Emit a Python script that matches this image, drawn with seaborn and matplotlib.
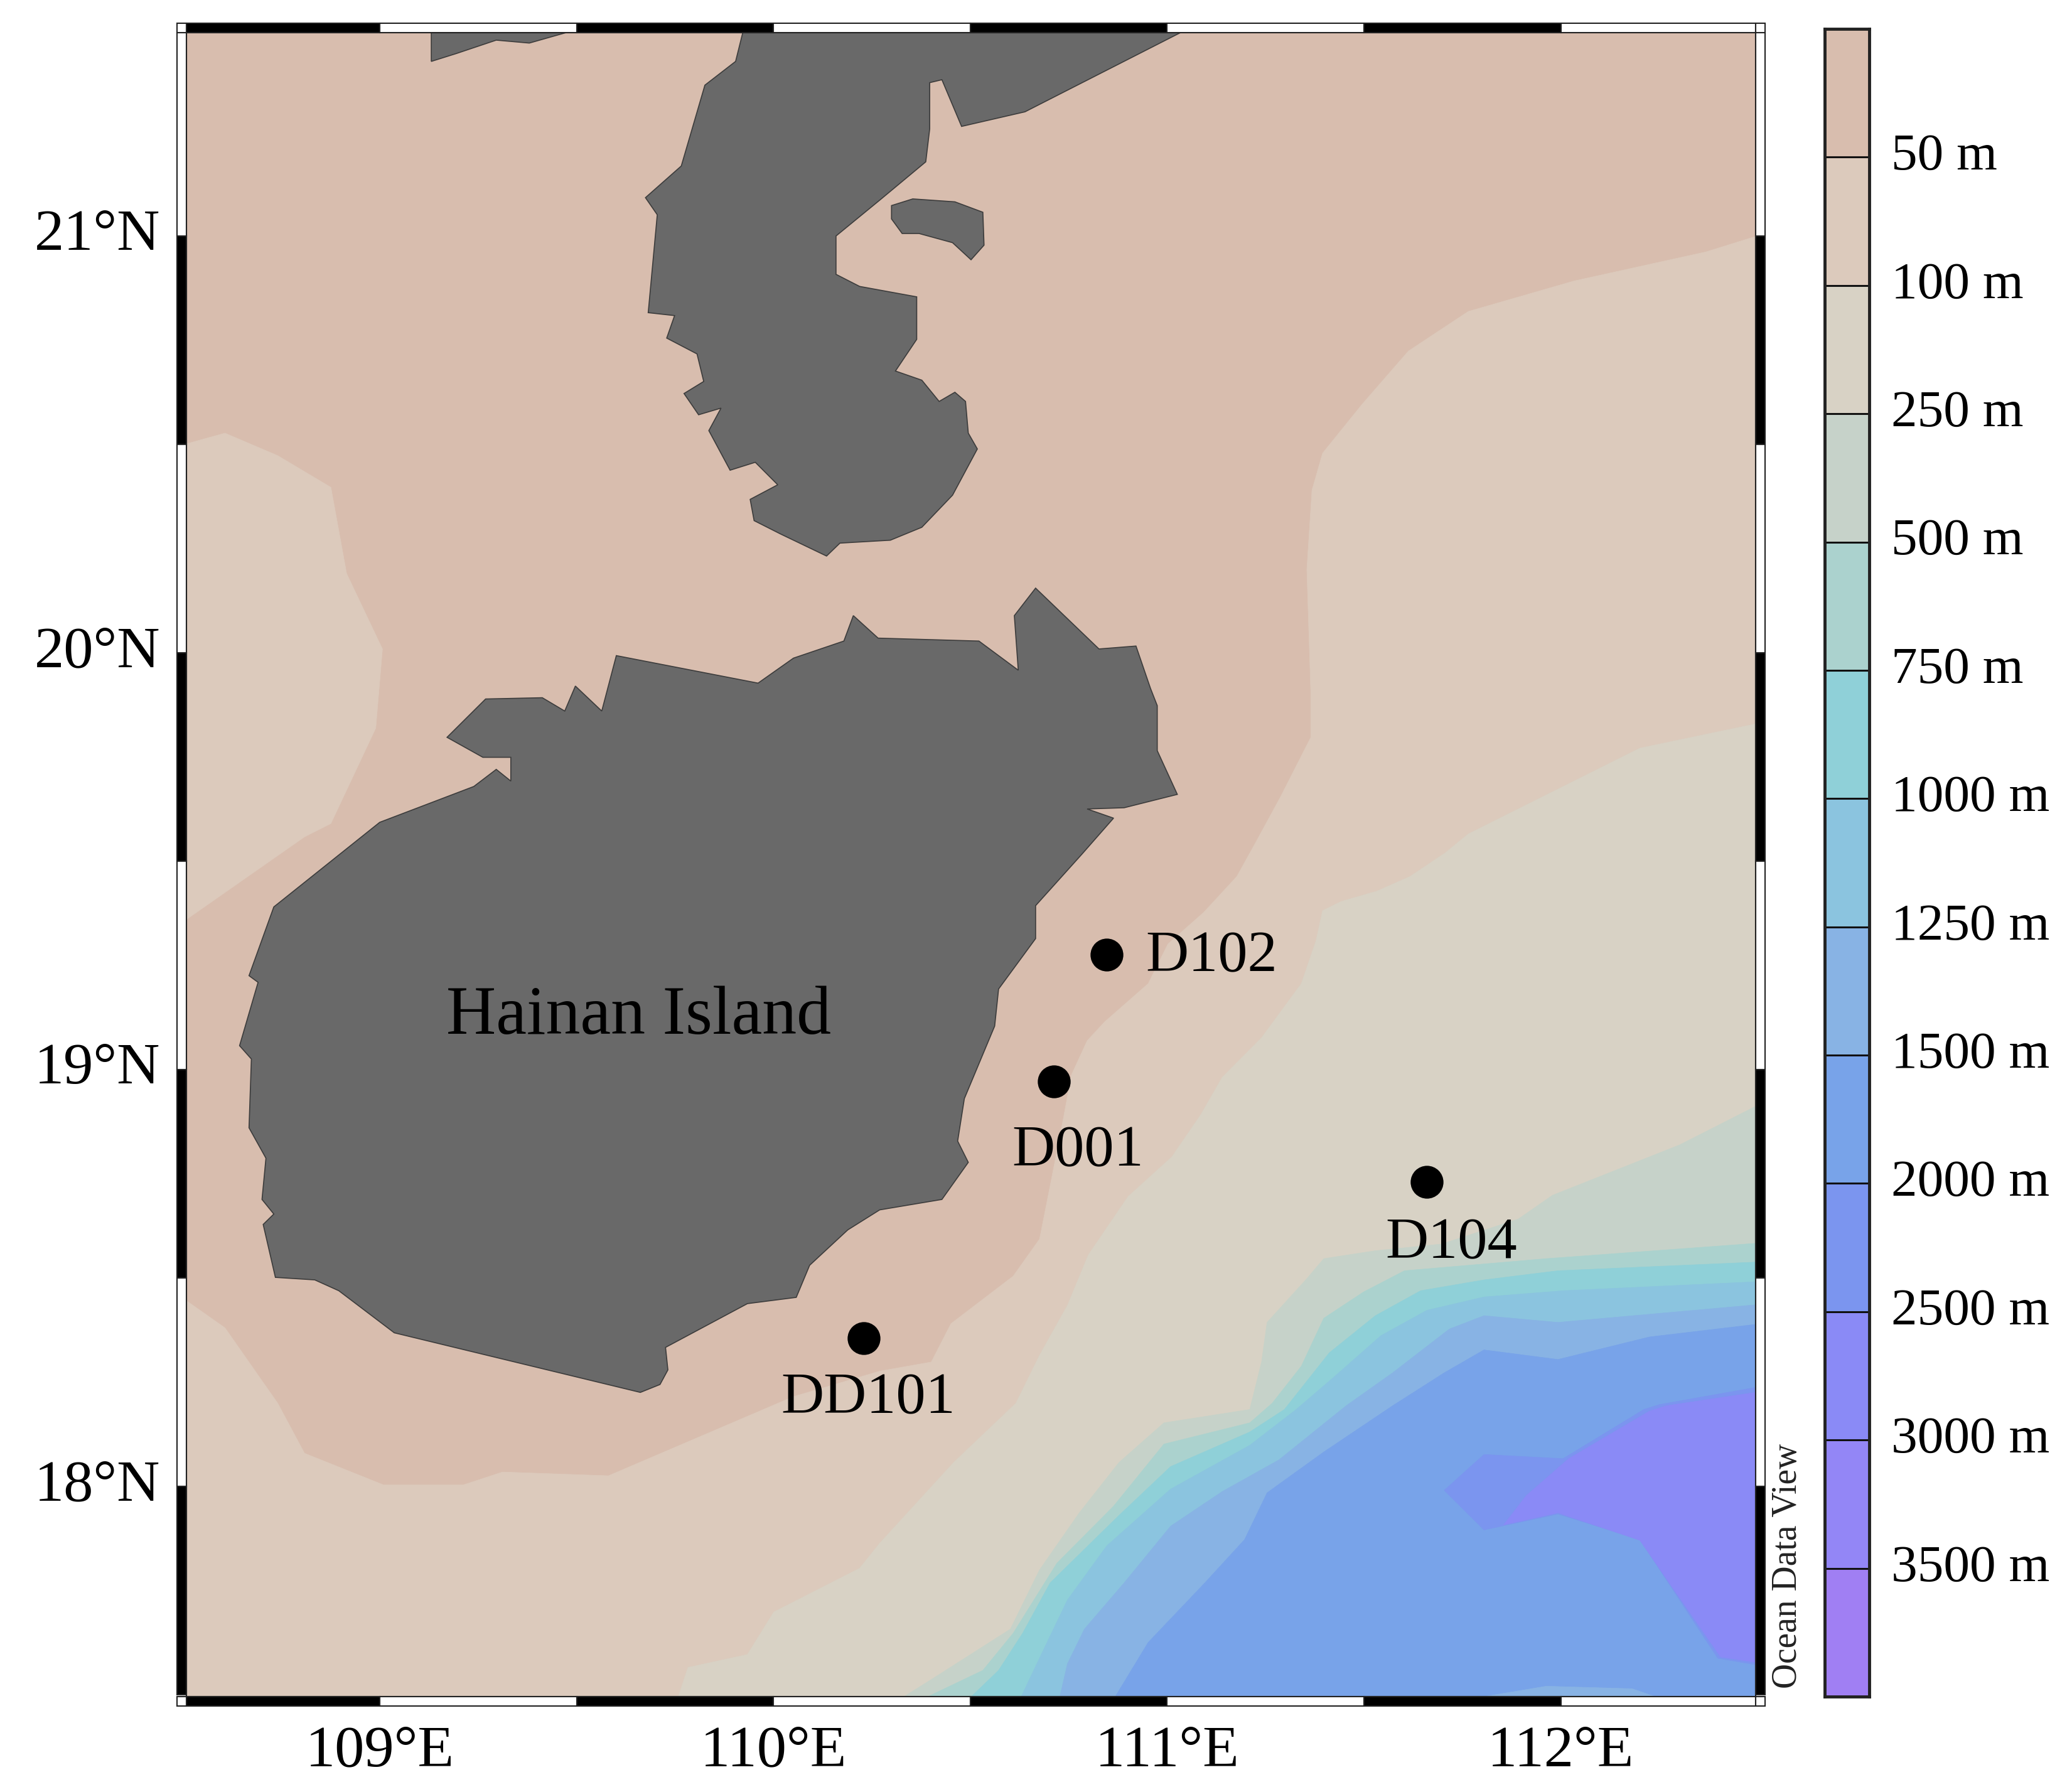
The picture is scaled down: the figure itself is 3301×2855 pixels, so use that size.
import numpy as np
import pandas as pd
import matplotlib
matplotlib.use("Agg")
import matplotlib.pyplot as plt
from matplotlib.colors import ListedColormap
from matplotlib.patches import Rectangle
import seaborn as sns

# ---------- depth legend ----------
depth_labels = ["50 m", "100 m", "250 m", "500 m", "750 m", "1000 m", "1250 m",
                "1500 m", "2000 m", "2500 m", "3000 m", "3500 m"]
band_colors = ["#D8BDAE", "#DCCABC", "#D8D2C5", "#C6D2C9", "#ABD2CE", "#8FD0D8", "#8BC4DF",
               "#88B3E4", "#78A3E9", "#7B95EF", "#8A8AF6", "#9386F6", "#A07FF3"]
land_color = "#696969"

# ---------- stations ----------
station_names = ["D102", "D001", "D104", "DD101"]
station_lon = [110.847, 110.713, 111.660, 110.229]
station_lat = [19.276, 18.971, 18.730, 18.355]
label_lon = [110.945, 110.774, 111.722, 110.241]
label_lat = [19.270, 18.803, 18.581, 18.209]

# ---------- land outlines ----------
hainan_lon = [109.171,109.269,109.413,109.470,109.497,109.564,109.601,109.961,110.051,110.179,110.203,110.266,110.522,110.622,110.612,110.666,110.827,110.921,110.958,110.975,110.975,111.026,110.891,110.797,110.864,110.784,110.666,110.666,110.572,110.562,110.485,110.468,110.495,110.428,110.270,110.189,110.092,110.058,109.934,109.726,109.732,109.712,109.662,109.037,108.896,108.835,108.735,108.704,108.731,108.701,108.711,108.668,108.674,108.644,108.691,108.668,108.731,109.000,109.239,109.296,109.333,109.333,109.262]
hainan_lat = [19.797,19.889,19.892,19.860,19.920,19.860,19.993,19.927,19.987,20.028,20.089,20.035,20.028,19.958,20.089,20.155,20.009,20.016,19.914,19.873,19.765,19.660,19.628,19.625,19.603,19.517,19.393,19.314,19.193,19.104,18.930,18.828,18.777,18.688,18.663,18.615,18.530,18.453,18.438,18.333,18.279,18.244,18.225,18.368,18.469,18.495,18.501,18.628,18.653,18.688,18.787,18.860,19.025,19.057,19.209,19.225,19.390,19.593,19.679,19.720,19.692,19.749,19.749]

leizhou_lon = [109.934,109.904,109.826,109.766,109.675,109.705,109.682,109.749,109.729,109.806,109.823,109.773,109.810,109.867,109.836,109.890,109.954,110.011,109.941,109.951,110.018,110.135,110.169,110.297,110.377,110.455,110.518,110.495,110.488,110.461,110.421,110.377,110.310,110.364,110.364,110.219,110.159,110.159,110.270,110.354,110.387,110.397,110.397,110.428,110.478,110.639,111.036,111.126]
leizhou_lat = [21.533,21.419,21.362,21.168,21.092,21.051,20.816,20.809,20.755,20.717,20.651,20.622,20.571,20.587,20.533,20.438,20.457,20.403,20.368,20.317,20.285,20.232,20.263,20.270,20.301,20.378,20.489,20.527,20.603,20.625,20.603,20.654,20.676,20.752,20.854,20.879,20.908,21.000,21.086,21.152,21.178,21.257,21.368,21.375,21.263,21.298,21.489,21.527]

naozhou_lon = [110.300,110.354,110.461,110.532,110.535,110.502,110.455,110.370,110.327,110.300]
naozhou_lat = [21.073,21.089,21.082,21.057,20.978,20.943,20.984,21.006,21.006,21.041]

north_coast_lon = [109.131,109.131,109.195,109.296,109.380,109.477,109.497]
north_coast_lat = [21.517,21.419,21.438,21.470,21.463,21.489,21.517]

# ---------- depth contours (deep side closes toward the south-east corner) ----------
d50_west_lon = [108.473,108.607,108.741,108.876,108.916,109.007,108.990,108.876,108.809,108.473]
d50_west_lat = [20.492,20.527,20.473,20.397,20.190,20.009,19.819,19.590,19.558,19.336]

d50_lon = [112.6,112.369,112.033,111.765,111.613,111.496,111.395,111.368,111.355,111.365,111.365,111.288,111.224,111.177,111.093,111.002,110.952,110.841,110.797,110.757,110.737,110.710,110.676,110.609,110.451,110.401,110.270,110.051,109.816,109.581,109.312,109.212,109.010,108.809,108.741,108.607,108.473,108.4,112.6]
d50_lat = [21.03,20.962,20.892,20.819,20.724,20.597,20.479,20.390,20.200,19.904,19.797,19.654,19.543,19.463,19.377,19.301,19.206,19.114,19.069,18.987,18.885,18.755,18.593,18.504,18.390,18.298,18.276,18.215,18.120,18.025,18.034,18.003,18.003,18.079,18.199,18.380,18.469,17.4,17.4]

d100_lon = [112.6,112.201,111.966,111.765,111.707,111.617,111.533,111.442,111.395,111.378,111.341,111.240,111.140,111.086,111.012,110.901,110.800,110.747,110.676,110.616,110.458,110.270,110.219,110.001,109.934,109.783,109.756,109.756,112.6]
d100_lat = [19.85,19.771,19.660,19.565,19.520,19.463,19.428,19.403,19.381,19.308,19.206,19.076,18.981,18.892,18.790,18.695,18.555,18.434,18.314,18.199,18.057,17.863,17.803,17.698,17.596,17.565,17.488,17.4,17.4]

d250_lon = [112.6,112.5,112.302,111.979,111.892,111.697,111.529,111.398,111.355,111.254,111.240,111.210,110.992,110.878,110.777,110.676,110.602,110.401,110.320,110.320,112.6]
d250_lat = [18.955,18.914,18.819,18.698,18.641,18.581,18.565,18.546,18.498,18.393,18.298,18.184,18.152,18.057,17.936,17.799,17.657,17.536,17.488,17.4,17.4]

d500_lon = [112.6,111.963,111.603,111.499,111.398,111.341,111.267,111.210,110.992,110.864,110.720,110.609,110.532,110.377,110.377,112.6]
d500_lat = [18.590,18.546,18.517,18.466,18.403,18.288,18.199,18.152,18.101,17.952,17.815,17.647,17.558,17.488,17.4,17.4]

d750_lon = [112.6,111.993,111.805,111.644,111.529,111.412,111.298,111.210,111.009,110.878,110.703,110.633,110.572,110.495,110.495,112.6]
d750_lat = [18.542,18.517,18.495,18.469,18.409,18.320,18.184,18.130,18.047,17.930,17.768,17.647,17.558,17.488,17.4,17.4]

d1000_lon = [112.6,112.006,111.805,111.660,111.543,111.429,111.328,111.210,111.009,110.847,110.747,110.690,110.626,110.626,112.6]
d1000_lat = [18.495,18.469,18.454,18.422,18.361,18.266,18.184,18.098,17.993,17.857,17.727,17.615,17.488,17.4,17.4]

d1250_lon = [112.6,111.993,111.805,111.717,111.573,111.455,111.284,111.140,111.009,110.891,110.790,110.747,110.726,110.726,112.6]
d1250_lat = [18.444,18.393,18.409,18.377,18.272,18.193,18.063,17.987,17.904,17.768,17.657,17.574,17.488,17.4,17.4]

d1500_lon = [112.6,112.225,111.993,111.805,111.704,111.573,111.398,111.254,111.197,111.096,110.952,110.864,110.864,112.6]
d1500_lat = [18.400,18.358,18.304,18.327,18.272,18.193,18.082,17.984,17.872,17.768,17.625,17.488,17.4,17.4]

rise_lon = [111.761,111.761,111.963,112.181,112.261,112.261]
rise_lat = [17.4,17.488,17.520,17.514,17.488,17.4]

d2000_lon = [112.537,112.252,112.211,112.006,111.805,111.704,111.805,111.993,112.201,112.399,112.537]
d2000_lat = [18.244,18.196,18.184,18.066,18.076,17.990,17.895,17.933,17.872,17.587,17.565]

d2500_lon = [112.537,112.268,112.225,112.020,111.912,111.855,111.993,112.201,112.406,112.537]
d2500_lat = [18.231,18.193,18.180,18.066,17.977,17.907,17.936,17.870,17.590,17.571]

lon_ticks = [109, 110, 111, 112]
lat_ticks = [18, 19, 20, 21]
lon_tick_labels = ["109°E", "110°E", "111°E", "112°E"]
lat_tick_labels = ["18°N", "19°N", "20°N", "21°N"]
lon_edges = [108.5, 109, 109.5, 110, 110.5, 111, 111.5, 112, 112.5]
lat_edges = [17.5, 18, 18.5, 19, 19.5, 20, 20.5, 21, 21.5]

# ---------- figure ----------
sns.set_theme(style="white")
plt.rcParams["font.family"] = ["Liberation Serif", "DejaVu Serif"]
W, H = 3301, 2855
fig = plt.figure(figsize=(W / 100, H / 100), dpi=100, facecolor="white")
L, R, T, B = 297, 2797, 52, 2703
ax = fig.add_axes([L / W, 1 - B / H, (R - L) / W, (B - T) / H])
ax.set_facecolor(band_colors[0])
ax.set_xlim(108.509, 112.495)
ax.set_ylim(17.495, 21.488)

layers = [
    (d50_west_lon, d50_west_lat, band_colors[1]),
    (d50_lon, d50_lat, band_colors[1]),
    (d100_lon, d100_lat, band_colors[2]),
    (d250_lon, d250_lat, band_colors[3]),
    (d500_lon, d500_lat, band_colors[4]),
    (d750_lon, d750_lat, band_colors[5]),
    (d1000_lon, d1000_lat, band_colors[6]),
    (d1250_lon, d1250_lat, band_colors[7]),
    (d1500_lon, d1500_lat, band_colors[8]),
    (rise_lon, rise_lat, band_colors[7]),
    (d2000_lon, d2000_lat, band_colors[9]),
    (d2500_lon, d2500_lat, band_colors[10]),
]
for i, (xs, ys, col) in enumerate(layers):
    ax.fill(xs, ys, facecolor=col, edgecolor=col, linewidth=0.5, zorder=1 + i * 0.01)

for xs, ys in [(hainan_lon, hainan_lat), (leizhou_lon, leizhou_lat),
               (naozhou_lon, naozhou_lat), (north_coast_lon, north_coast_lat)]:
    ax.fill(xs, ys, facecolor=land_color, edgecolor="#3c3c3c", linewidth=1.2, zorder=2)

stations = pd.DataFrame({"lon": station_lon, "lat": station_lat, "name": station_names})
sns.scatterplot(data=stations, x="lon", y="lat", ax=ax, color="black", s=1420,
                linewidth=0, legend=False, zorder=4)
ax.set_xlim(108.509, 112.495)
ax.set_ylim(17.495, 21.488)

for name, x, y, ha in zip(station_names, label_lon, label_lat, ["left", "center", "center", "center"]):
    ax.text(x, y, name, fontsize=68, ha=ha, va="center", color="black", zorder=5)
ax.text(109.658, 19.126, "Hainan Island", fontsize=79, ha="center", va="center",
        color="black", zorder=5)

# ticks and labels
ax.set_xticks(lon_ticks, lon_tick_labels, fontsize=68, color="black")
ax.set_yticks(lat_ticks, lat_tick_labels, fontsize=68, color="black", va="center")
ax.tick_params(axis="x", length=0, pad=33)
ax.tick_params(axis="y", length=0, pad=30)
ax.set_xlabel("")
ax.set_ylabel("")

# alternating degree frame
for s in ax.spines.values():
    s.set_visible(True)
    s.set_color("#222222")
    s.set_linewidth(1.5)
bw_x = 15 / (R - L)
bw_y = 15 / (B - T)
xtrans = ax.get_xaxis_transform()
ytrans = ax.get_yaxis_transform()
for k in range(len(lon_edges) - 1):
    a = max(lon_edges[k], ax.get_xlim()[0])
    b = min(lon_edges[k + 1], ax.get_xlim()[1])
    fc = "black" if k % 2 == 0 else "white"
    for y0 in (-bw_y, 1):
        ax.add_patch(Rectangle((a, y0), b - a, bw_y, transform=xtrans, clip_on=False,
                               facecolor=fc, edgecolor="#222222", linewidth=1.5, zorder=6))
for k in range(len(lat_edges) - 1):
    a = max(lat_edges[k], ax.get_ylim()[0])
    b = min(lat_edges[k + 1], ax.get_ylim()[1])
    fc = "black" if k % 2 == 0 else "white"
    for x0 in (-bw_x, 1):
        ax.add_patch(Rectangle((x0, a), bw_x, b - a, transform=ytrans, clip_on=False,
                               facecolor=fc, edgecolor="#222222", linewidth=1.5, zorder=6))
for x0 in (-bw_x, 1):
    for y0 in (-bw_y, 1):
        ax.add_patch(Rectangle((x0, y0), bw_x, bw_y, transform=ax.transAxes, clip_on=False,
                               facecolor="white", edgecolor="#222222", linewidth=1.5, zorder=6))

fig.text(2848 / W, 1 - 2690 / H, "Ocean Data View", rotation=90, fontsize=40,
         ha="center", va="bottom", color="#222222")

# depth colour key
cax = fig.add_axes([2907 / W, 1 - 2703 / H, 71 / W, (2703 - 46) / H])
key = np.arange(len(band_colors)).reshape(-1, 1)
sns.heatmap(key, cmap=ListedColormap(band_colors), cbar=False, ax=cax,
            xticklabels=False, yticklabels=False)
cax.hlines(np.arange(1, len(band_colors)), 0, 1, color="#111111", linewidth=2.2)
cax.yaxis.tick_right()
cax.set_yticks(np.arange(1, len(band_colors)), depth_labels, fontsize=60, rotation=0,
               color="black", va="center")
cax.tick_params(axis="y", length=0, pad=25)
cax.tick_params(axis="x", length=0)
for s in cax.spines.values():
    s.set_visible(True)
    s.set_color("#222222")
    s.set_linewidth(3.5)

fig.savefig("out.png", dpi=100, facecolor="white")
